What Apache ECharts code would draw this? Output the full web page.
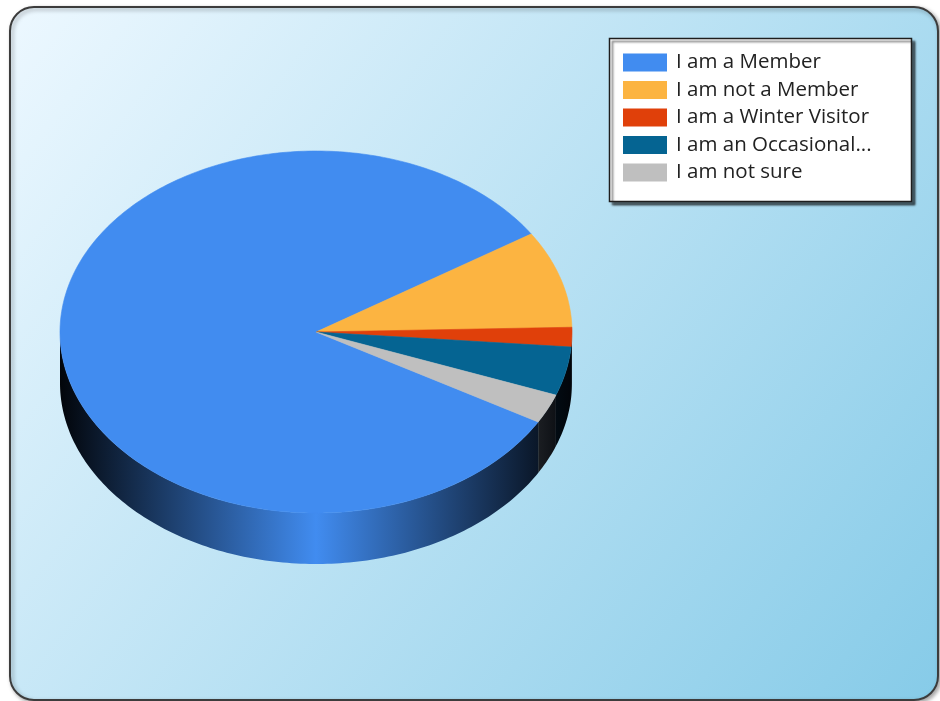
<!DOCTYPE html>
<html>
<head>
<meta charset="utf-8">
<script src="https://cdn.jsdelivr.net/npm/echarts@6/dist/echarts.min.js"></script>
<style>
  html, body { margin: 0; padding: 0; background: #fff; }
  #chart { width: 940px; height: 701px; }
</style>
</head>
<body>
<div id="chart"></div>
<script>
// answers, in legend order
const categories = ['I am a Member', 'I am not a Member', 'I am a Winter Visitor', 'I am an Occasional...', 'I am not sure'];
const values = [190, 20, 4, 10, 6];
const colors = ['#418CF0', '#FCB441', '#E0400A', '#056492', '#BFBFBF'];

// pie layout (3d look: flattened ellipse + side wall)
const cx = 316, cy = 332, rx = 256, ry = 181, depth = 51;
const startAngle = -29.8; // degrees, slices run clockwise from here

const total = values.reduce((a, b) => a + b, 0);
const spans = [];
let acc = startAngle;
values.forEach(v => {
  const sweep = v / total * 360;
  spans.push([acc - sweep, acc]); // [lo, hi] in degrees
  acc -= sweep;
});

const pt = (deg, dy) => {
  const r = deg * Math.PI / 180;
  return [cx + rx * Math.cos(r), cy - ry * Math.sin(r) + (dy || 0)];
};

const arc = (lo, hi, dy) => {
  const pts = [];
  const n = Math.max(2, Math.ceil(hi - lo));
  for (let i = 0; i <= n; i++) pts.push(pt(hi - (hi - lo) * i / n, dy));
  return pts;
};

const renderSlice = (params, api) => {
  const idx = params.seriesIndex;
  const [lo, hi] = spans[idx];
  const color = colors[idx];
  const children = [];

  // visible side wall: the part of the rim in the front half
  for (let k = -2; k <= 1; k++) {
    const a = Math.max(lo, -180 + 360 * k);
    const b = Math.min(hi, 360 * k);
    if (b - a > 0.01) {
      const top = arc(a, b, 0);
      const bottom = arc(a, b, depth).reverse();
      children.push({
        type: 'polygon',
        z2: 1,
        shape: { points: top.concat(bottom) },
        style: {
          fill: new echarts.graphic.LinearGradient(cx - rx, 0, cx + rx, 0, [
            { offset: 0, color: '#02050a' },
            { offset: 0.5, color: color },
            { offset: 1, color: '#02050a' }
          ], true),
          stroke: null
        }
      });
    }
  }

  // top face
  children.push({
    type: 'polygon',
    z2: 10,
    shape: { points: [[cx, cy]].concat(arc(lo, hi, 0)) },
    style: { fill: color, stroke: color, lineWidth: 0.6 }
  });

  return { type: 'group', children: children };
};

const chart = echarts.init(document.getElementById('chart'));

const option = {
  animation: false,
  graphic: [
    {
      type: 'rect',
      z: -10,
      shape: { x: 10, y: 7, width: 928, height: 693, r: 24 },
      style: {
        fill: new echarts.graphic.LinearGradient(0, 0, 1, 1, [
          { offset: 0, color: '#EDF8FF' },
          { offset: 1, color: '#86CBE8' }
        ]),
        stroke: '#3c3c3c',
        lineWidth: 2,
        shadowBlur: 4,
        shadowOffsetX: 2,
        shadowOffsetY: 2,
        shadowColor: 'rgba(0,0,0,0.35)'
      }
    },
    {
      type: 'rect',
      z: -5,
      shape: { x: 609.5, y: 38.5, width: 302, height: 163 },
      style: {
        fill: '#ffffff',
        stroke: '#1e1e1e',
        lineWidth: 1.5,
        shadowBlur: 2,
        shadowOffsetX: 3,
        shadowOffsetY: 3,
        shadowColor: 'rgba(0,0,0,0.55)'
      }
    }
  ],
  legend: {
    orient: 'vertical',
    left: 623,
    top: 52,
    padding: 0,
    itemWidth: 44,
    itemHeight: 18,
    itemGap: 6.5,
    icon: 'rect',
    selectedMode: false,
    data: categories,
    textStyle: {
      fontFamily: 'Open Sans',
      fontSize: 20.5,
      lineHeight: 18,
      color: '#222',
      padding: [0, 0, 0, 4]
    }
  },
  series: categories.map((name, i) => ({
    name: name,
    type: 'custom',
    coordinateSystem: 'none',
    itemStyle: { color: colors[i] },
    data: [[values[i]]],
    renderItem: renderSlice
  }))
};

chart.setOption(option);
</script>
</body>
</html>
